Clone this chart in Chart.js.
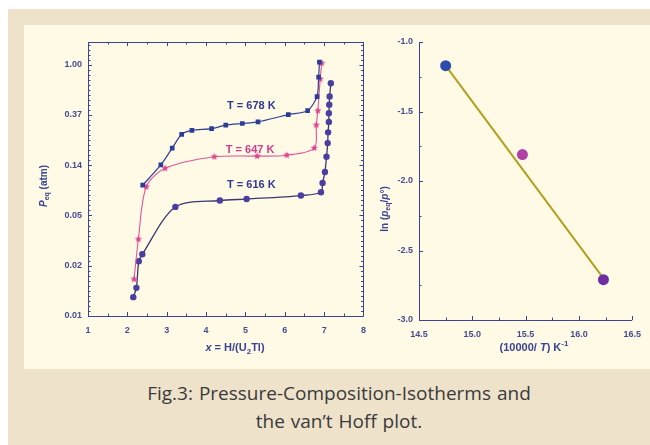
<!DOCTYPE html>
<html>
<head>
<meta charset="utf-8">
<script src="https://cdn.jsdelivr.net/npm/chart.js@4.4.0/dist/chart.umd.min.js"></script>
<style>
  body { margin: 0; background: #fff; width: 650px; height: 445px; overflow: hidden; position: relative; }
  #outer { position: absolute; left: 8px; top: 9px; width: 642px; height: 436px; background: #eee2cb; }
  #panel { position: absolute; left: 24px; top: 25px; width: 626px; height: 344px; background: #fefae6; }
  #pct { position: absolute; left: 24px; top: 25px; }
  #vht { position: absolute; left: 375px; top: 25px; }
  #caption { position: absolute; left: 19px; width: 640px; top: 379px; text-align: center;
             font-family: "Open Sans", sans-serif; font-size: 19px; line-height: 28px; color: #3a3a3a;
             word-spacing: 1px; }
</style>
</head>
<body>
<div id="outer"></div>
<div id="panel"></div>
<canvas id="pct" width="351" height="344"></canvas>
<canvas id="vht" width="275" height="344"></canvas>
<div id="caption">Fig.3: Pressure-Composition-Isotherms and<br>the van’t Hoff plot.</div>
<script>
// --- isotherms: x = H/(U2Tl), P in atm ---
const x678 = [2.39, 2.85, 3.14, 3.38, 3.64, 4.14, 4.50, 4.92, 5.32, 6.09, 6.58, 6.82, 6.86, 6.88];
const p678 = [0.091, 0.136, 0.19, 0.25, 0.27, 0.28, 0.30, 0.31, 0.32, 0.37, 0.40, 0.53, 0.78, 1.05];

const x647 = [2.17, 2.28, 2.48, 2.96, 4.21, 5.30, 6.05, 6.75, 6.80, 6.84, 6.90, 6.94];
const p647 = [0.014, 0.031, 0.088, 0.127, 0.16, 0.162, 0.165, 0.19, 0.30, 0.40, 0.75, 1.03];

const x616 = [2.15, 2.23, 2.29, 2.38, 3.22, 4.35, 5.03, 6.41, 6.92, 6.96, 7.02, 7.06, 7.09, 7.10, 7.12, 7.12, 7.13, 7.14, 7.17];
const p616 = [0.0098, 0.0118, 0.020, 0.023, 0.059, 0.067, 0.069, 0.074, 0.079, 0.095, 0.118, 0.16, 0.21, 0.26, 0.32, 0.38, 0.45, 0.53, 0.69];

// y axis is ln(P): ticks at e^-5 .. e^0
const lnTicks = [-5, -4, -3, -2, -1, 0];
const pTickLabels = ['0.01', '0.02', '0.05', '0.14', '0.37', '1.00'];

// --- van't Hoff ---
const invT = [14.75, 15.47, 16.23];
const lnPeq = [-1.17, -1.81, -2.71];
const fitX = [14.75, 16.23];
const fitY = [-1.17, -2.70];

const NAVY = '#3a4394';
const TICK = '#464c91';

function pts(xs, ys) { return xs.map((x, i) => ({ x: x, y: ys[i] })); }

function starImg(color, r) {
  const c = document.createElement('canvas');
  const s = Math.ceil(r * 2 + 2);
  c.width = c.height = s;
  const g = c.getContext('2d');
  g.fillStyle = color;
  g.beginPath();
  for (let i = 0; i < 10; i++) {
    const a = -Math.PI / 2 + i * Math.PI / 5;
    const rr = i % 2 ? r * 0.45 : r;
    g.lineTo(s / 2 + rr * Math.cos(a), s / 2 + rr * Math.sin(a));
  }
  g.closePath();
  g.fill();
  return c;
}

// text with italic / sub / sup parts, centred at cx,cy
function drawRich(ctx, cx, cy, parts, size, rot, color) {
  ctx.save();
  ctx.translate(cx, cy);
  ctx.rotate(rot || 0);
  ctx.fillStyle = color;
  ctx.textBaseline = 'middle';
  ctx.textAlign = 'left';
  const fontOf = p => (p.italic ? 'italic ' : '') + 'bold ' + ((p.sub || p.sup) ? Math.round(size * 0.7) : size) + 'px Arial';
  let w = 0;
  parts.forEach(p => { ctx.font = fontOf(p); w += ctx.measureText(p.t).width; });
  let x = -w / 2;
  parts.forEach(p => {
    ctx.font = fontOf(p);
    const dy = p.sub ? size * 0.32 : (p.sup ? -size * 0.38 : 0);
    ctx.fillText(p.t, x, dy);
    x += ctx.measureText(p.t).width;
  });
  ctx.restore();
}

// axis frame with inward ticks
const framePlugin = {
  id: 'frame',
  afterDraw(chart, args, o) {
    const { ctx, chartArea: a, scales } = chart;
    ctx.save();
    ctx.strokeStyle = NAVY;
    ctx.lineWidth = 1;
    ctx.beginPath();
    if (o.box) {
      ctx.rect(Math.round(a.left) + 0.5, Math.round(a.top) + 0.5, Math.round(a.right - a.left), Math.round(a.bottom - a.top));
    } else {
      ctx.moveTo(Math.round(a.left) + 0.5, a.top);
      ctx.lineTo(Math.round(a.left) + 0.5, Math.round(a.bottom) + 0.5);
      ctx.lineTo(a.right, Math.round(a.bottom) + 0.5);
    }
    const xt = (vals, len) => vals.forEach(v => {
      const px = Math.round(scales.x.getPixelForValue(v)) + 0.5;
      ctx.moveTo(px, a.bottom); ctx.lineTo(px, a.bottom - len);
      if (o.box) { ctx.moveTo(px, a.top); ctx.lineTo(px, a.top + len); }
    });
    const yt = (vals, len) => vals.forEach(v => {
      const py = Math.round(scales.y.getPixelForValue(v)) + 0.5;
      ctx.moveTo(a.left, py); ctx.lineTo(a.left + len, py);
      if (o.box) { ctx.moveTo(a.right, py); ctx.lineTo(a.right - len, py); }
    });
    xt(o.xMajor, 4); xt(o.xMinor, 2.5);
    yt(o.yMajor, 4); yt(o.yMinor, 2.5);
    ctx.stroke();
    ctx.restore();
  }
};

const textPlugin = {
  id: 'texts',
  afterDraw(chart, args, o) {
    const { ctx, scales } = chart;
    (o.items || []).forEach(it => {
      let x = it.x, y = it.y;
      if (it.data) { x = scales.x.getPixelForValue(it.data[0]); y = scales.y.getPixelForValue(it.data[1]); }
      drawRich(ctx, x, y, it.parts, it.size, it.rot, it.color);
    });
  }
};

const tickFont = { family: 'Arial', size: 9, weight: 'bold' };

// ---------- left: isotherms ----------
const minorLn = [];
for (let k = -50; k <= 4; k++) if (k % 10) minorLn.push(Math.exp(k / 10));

new Chart(document.getElementById('pct'), {
  type: 'scatter',
  data: {
    datasets: [
      {
        label: 'T = 678 K', data: pts(x678, p678), showLine: true, tension: 0.25,
        borderColor: '#2f3f93', borderWidth: 1.2,
        pointStyle: 'rect', pointRadius: 3.3, pointBackgroundColor: '#2b3d98', pointBorderWidth: 0
      },
      {
        label: 'T = 647 K', data: pts(x647, p647), showLine: true, tension: 0.3,
        borderColor: '#e0559a', borderWidth: 1.1,
        pointStyle: starImg('#dd4490', 3.8), pointRadius: 4
      },
      {
        label: 'T = 616 K', data: pts(x616, p616), showLine: true, tension: 0.3,
        borderColor: '#3b3772', borderWidth: 1.3,
        pointStyle: 'circle', pointRadius: 3.2, pointBackgroundColor: '#4a3e9e', pointBorderWidth: 0
      }
    ]
  },
  options: {
    responsive: false,
    animation: false,
    devicePixelRatio: 1,
    layout: { padding: { top: 17, right: 6, left: 0, bottom: 0 } },
    plugins: {
      legend: { display: false },
      tooltip: { enabled: false },
      frame: {
        box: true,
        xMajor: [1, 2, 3, 4, 5, 6, 7, 8],
        xMinor: [1.5, 2.5, 3.5, 4.5, 5.5, 6.5, 7.5],
        yMajor: lnTicks.map(k => Math.exp(k)),
        yMinor: minorLn
      },
      texts: {
        items: [
          { data: [5.15, 0.44], parts: [{ t: 'T = 678 K' }], size: 11, color: '#2e3b8f' },
          { data: [5.12, 0.183], parts: [{ t: 'T = 647 K' }], size: 11, color: '#d8398a' },
          { data: [5.15, 0.091], parts: [{ t: 'T = 616 K' }], size: 11, color: '#2e3b8f' },
          { x: 20, y: 161, rot: -Math.PI / 2, size: 10, color: '#3a4394',
            parts: [{ t: 'P', italic: true }, { t: 'eq', sub: true }, { t: ' (atm)' }] },
          { x: 211, y: 323, size: 11, color: '#3a4394',
            parts: [{ t: 'x', italic: true }, { t: ' = H/(U' }, { t: '2', sub: true }, { t: 'Tl)' }] }
        ]
      }
    },
    scales: {
      x: {
        type: 'linear', min: 1, max: 8,
        grid: { display: false, drawTicks: false },
        border: { display: false },
        ticks: { stepSize: 1, padding: 9, color: TICK, font: tickFont },
        afterFit: s => { s.height = 53; }
      },
      y: {
        type: 'logarithmic', min: Math.exp(-5), max: Math.exp(0.45),
        grid: { display: false, drawTicks: false },
        border: { display: false },
        afterBuildTicks: s => { s.ticks = lnTicks.map(k => ({ value: Math.exp(k) })); },
        ticks: {
          autoSkip: false, padding: 6, color: TICK, font: tickFont,
          callback: (v, i) => pTickLabels[i]
        },
        afterFit: s => { s.width = 64; }
      }
    }
  },
  plugins: [framePlugin, textPlugin]
});

// ---------- right: van't Hoff ----------
new Chart(document.getElementById('vht'), {
  type: 'scatter',
  data: {
    datasets: [
      {
        data: pts(invT, lnPeq), showLine: false,
        pointRadius: 5.5, pointBorderWidth: 0,
        pointBackgroundColor: ['#2c4cae', '#b040a6', '#6c2ea0']
      },
      {
        data: pts(fitX, fitY), showLine: true, pointRadius: 0,
        borderColor: '#b3a01e', borderWidth: 2
      }
    ]
  },
  options: {
    responsive: false,
    animation: false,
    devicePixelRatio: 1,
    layout: { padding: { top: 17, right: 17, left: 0, bottom: 0 } },
    plugins: {
      legend: { display: false },
      tooltip: { enabled: false },
      frame: {
        box: false,
        xMajor: [14.5, 15.0, 15.5, 16.0, 16.5],
        xMinor: [14.75, 15.25, 15.75, 16.25],
        yMajor: [-3.0, -2.5, -2.0, -1.5, -1.0],
        yMinor: [-2.75, -2.25, -1.75, -1.25]
      },
      texts: {
        items: [
          { x: 10, y: 184, rot: -Math.PI / 2, size: 10, color: '#3a4394',
            parts: [{ t: 'ln (' }, { t: 'p', italic: true }, { t: 'eq', sub: true }, { t: '/' },
                    { t: 'p', italic: true }, { t: '°' }, { t: ')' }] },
          { x: 159, y: 323, size: 11, color: '#3a4394',
            parts: [{ t: '(10000/ ' }, { t: 'T', italic: true }, { t: ') K' }, { t: '-1', sup: true }] }
        ]
      }
    },
    scales: {
      x: {
        type: 'linear', min: 14.5, max: 16.5,
        grid: { display: false, drawTicks: false },
        border: { display: false },
        ticks: { stepSize: 0.5, padding: 9, color: TICK, font: tickFont, callback: v => v.toFixed(1) },
        afterFit: s => { s.height = 49; }
      },
      y: {
        type: 'linear', min: -3, max: -1,
        grid: { display: false, drawTicks: false },
        border: { display: false },
        ticks: { stepSize: 0.5, padding: 6, color: TICK, font: tickFont, callback: v => v.toFixed(1) },
        afterFit: s => { s.width = 44; }
      }
    }
  },
  plugins: [framePlugin, textPlugin]
});
</script>
</body>
</html>
